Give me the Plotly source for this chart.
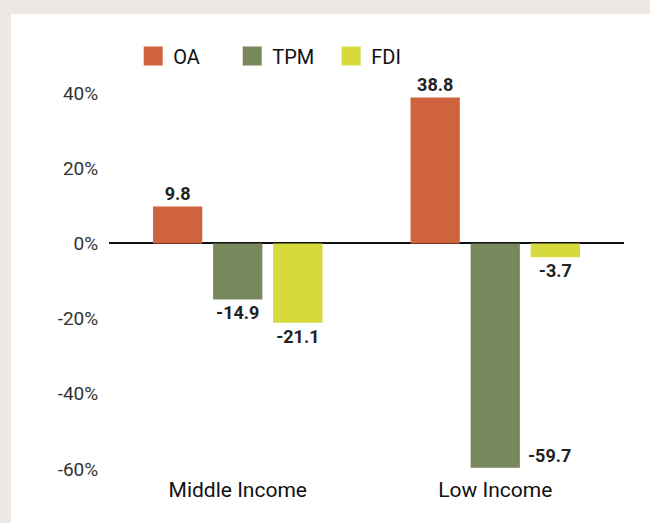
import plotly.graph_objects as go

categories = ['Middle Income', 'Low Income']
series_names = ['OA', 'TPM', 'FDI']
oa = [9.8, 38.8]
tpm = [-14.9, -59.7]
fdi = [-21.1, -3.7]
tick_vals = [-60, -40, -20, 0, 20, 40]
tick_text = ['-60%', '-40%', '-20%', '0%', '20%', '40%']

colors = {'OA': '#cf633d', 'TPM': '#77885c', 'FDI': '#d6da3c'}
values = {'OA': oa, 'TPM': tpm, 'FDI': fdi}

W, H = 650, 523
L, R, T, B = 109, 26, 93, 54
pw, ph = W - L - R, H - T - B

fig = go.Figure()

for name in series_names:
    vals = values[name]
    # the deepest bar gets its label on the side (added below)
    pos = ['none' if v == min(tpm) else 'outside' for v in vals]
    fig.add_trace(go.Bar(
        x=categories,
        y=vals,
        name=name,
        marker_color=colors[name],
        marker_line_width=0,
        texttemplate='%{y:.1f}',
        textposition=pos,
        textfont=dict(family='Roboto', size=18, color='#222222', weight='bold'),
        cliponaxis=False,
        showlegend=False,
    ))
    # legend swatch
    fig.add_trace(go.Scatter(
        x=[None], y=[None], mode='markers', name=name,
        marker=dict(symbol='square', size=16, color=colors[name],
                    line=dict(width=3, color=colors[name])),
    ))

# side label for the big negative bar
fig.add_annotation(
    x=categories[1], y=tpm[1], text='<b>%.1f</b>' % tpm[1],
    showarrow=False, xanchor='left', yanchor='bottom', xshift=31,
    font=dict(family='Roboto', size=18, color='#222222'),
)

# white panel on beige background
fig.add_shape(
    type='rect', xref='paper', yref='paper', layer='below',
    x0=(11 - L) / pw, x1=(W + 5 - L) / pw,
    y0=-(B + 5) / ph, y1=1 + (T - 14) / ph,
    fillcolor='white', line_width=0,
)

fig.update_layout(
    width=W, height=H,
    margin=dict(l=L, r=R, t=T, b=B, autoexpand=False),
    paper_bgcolor='#ede8e3',
    plot_bgcolor='rgba(0,0,0,0)',
    barmode='group',
    bargap=0.3,
    bargroupgap=0.18,
    font=dict(family='Roboto', size=20, color='#333333'),
    legend=dict(
        orientation='h', x=0.047, xanchor='left', y=1 + 37 / ph, yanchor='middle',
        font=dict(size=20, color='#111111'), bgcolor='rgba(0,0,0,0)',
        itemsizing='trace', entrywidth=54,
    ),
    xaxis=dict(
        showgrid=False, showline=False, ticks='outside', ticklen=2,
        tickcolor='rgba(0,0,0,0)', tickfont=dict(color='#111111', size=21),
    ),
    yaxis=dict(
        range=[-60, 40], tickvals=tick_vals, ticktext=tick_text,
        showgrid=False, showline=False, zeroline=True,
        zerolinecolor='#111111', zerolinewidth=2,
        ticks='outside', ticklen=6, tickcolor='rgba(0,0,0,0)',
        tickfont=dict(color='#333333', size=19),
    ),
)

fig.write_html('out.html', config={'displayModeBar': False},
               post_script="document.body.style.margin='0';"
               "document.body.style.background='#ede8e3';")
